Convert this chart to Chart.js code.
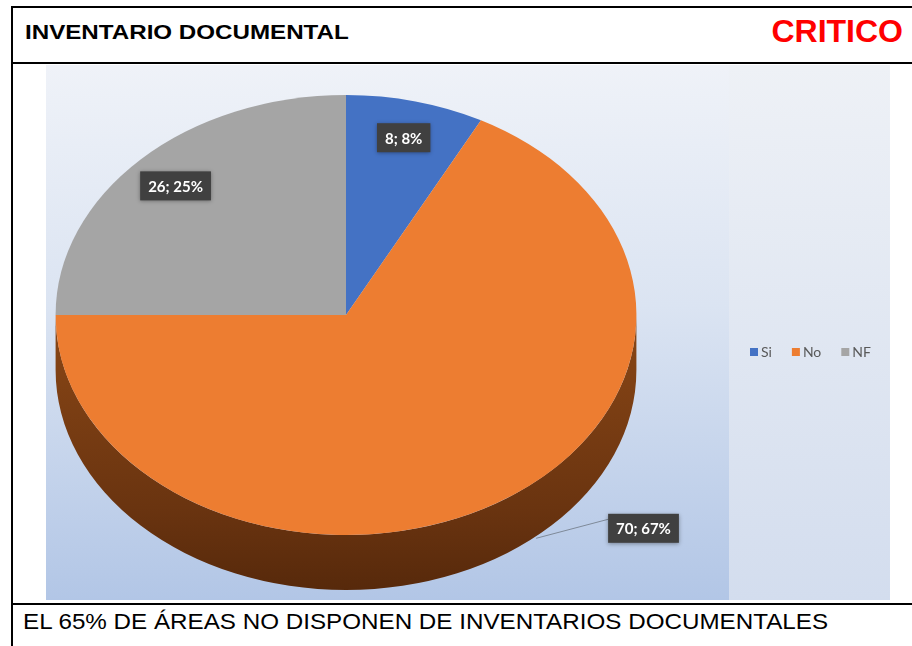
<!DOCTYPE html>
<html lang="es">
<head>
    <meta charset="UTF-8">
    <title>Inventario documental</title>
    <script src="https://cdn.jsdelivr.net/npm/chart.js"></script>
    <style>
        body { margin: 0; width: 912px; height: 646px; overflow: hidden; background: #fff; position: relative; font-family: "Liberation Sans", Arial, sans-serif; }
        .frame { position: absolute; left: 11px; top: 6px; width: 960px; height: 700px; border-left: 2px solid #000; border-top: 2px solid #000; }
        .hline { position: absolute; left: 11px; width: 960px; height: 2px; background: #000; }
        #titulo { position: absolute; left: 25px; top: 20px; font-size: 21px; font-weight: bold; color: #000; white-space: nowrap; transform-origin: left top; transform: scaleX(1.15); }
        #estado { position: absolute; right: 9px; top: 13px; font-size: 32px; font-weight: bold; color: #ff0000; white-space: nowrap; }
        #conclusion { position: absolute; left: 23px; top: 609px; font-size: 22px; color: #000; white-space: nowrap; transform-origin: left top; transform: scaleX(1.1); }
        #grafico { position: absolute; left: 46px; top: 65px; width: 844px; height: 535px; }
    </style>
</head>
<body>
    <div class="frame"></div>
    <div class="hline" style="top: 62px;"></div>
    <div class="hline" style="top: 603px;"></div>
    <div id="titulo">INVENTARIO DOCUMENTAL</div>
    <div id="estado">CRITICO</div>
    <div id="conclusion">EL 65% DE ÁREAS NO DISPONEN DE INVENTARIOS DOCUMENTALES</div>

    <div id="grafico"><canvas id="pieChart"></canvas></div>

    <script>
        // Datos del gráfico
        const categorias = ['Si', 'No', 'NF'];
        const valores = [8, 70, 26];

        const coloresCara = ['#4472c4', '#ed7d31', '#a5a5a5'];   // cara superior
        const coloresLado = ['#2f528f', '#6a3410', '#6e6e6e'];   // borde 3D
        const escalaX = 1.32;   // la torta es una elipse (vista inclinada)
        const grosor = 55;      // espesor del borde 3D

        // Fondo degradado de la imagen
        const fondo = {
            id: 'fondo',
            beforeDraw(chart) {
                const { ctx, width, height } = chart;
                const corte = 683;
                let g = ctx.createLinearGradient(0, 0, 0, height);
                g.addColorStop(0, '#eff2f8');
                g.addColorStop(0.45, '#dbe4f2');
                g.addColorStop(1, '#b2c6e6');
                ctx.save();
                ctx.fillStyle = g;
                ctx.fillRect(0, 0, corte, height);
                g = ctx.createLinearGradient(0, 0, 0, height);
                g.addColorStop(0, '#eef1f6');
                g.addColorStop(1, '#d3ddee');
                ctx.fillStyle = g;
                ctx.fillRect(corte, 0, width - corte, height);
                ctx.restore();
            }
        };

        // Vista 3D: estira la torta en x y dibuja el borde delantero
        const torta3d = {
            id: 'torta3d',
            beforeDatasetsDraw(chart) {
                const ctx = chart.ctx;
                const arcos = chart.getDatasetMeta(0).data;
                const cx = arcos[0].x, cy = arcos[0].y;
                ctx.save();
                ctx.translate(cx, cy);
                ctx.scale(escalaX, 1);
                ctx.translate(-cx, -cy);
                arcos.forEach((arco, i) => {
                    const { x, y, startAngle, endAngle, outerRadius } = arco.getProps(['x', 'y', 'startAngle', 'endAngle', 'outerRadius'], true);
                    let a0 = startAngle, a1 = endAngle;
                    while (a0 < 0) { a0 += 2 * Math.PI; a1 += 2 * Math.PI; }
                    // tramos delanteros: [0, PI] y [2PI, 3PI]
                    [[0, Math.PI], [2 * Math.PI, 3 * Math.PI]].forEach(([f0, f1]) => {
                        const s = Math.max(a0, f0), e = Math.min(a1, f1);
                        if (e <= s) return;
                        const g = ctx.createLinearGradient(0, y, 0, y + outerRadius + grosor);
                        g.addColorStop(0, '#8a4716');
                        g.addColorStop(0.7, coloresLado[i]);
                        g.addColorStop(1, '#57290b');
                        ctx.beginPath();
                        ctx.arc(x, y, outerRadius, s, e);
                        ctx.arc(x, y + grosor, outerRadius, e, s, true);
                        ctx.closePath();
                        ctx.fillStyle = i === 1 ? g : coloresLado[i];
                        ctx.fill();
                    });
                });
            },
            afterDatasetsDraw(chart) {
                chart.ctx.restore();
            }
        };

        // Etiquetas "valor; porcentaje"
        const etiquetas = {
            id: 'etiquetas',
            afterDraw(chart) {
                const ctx = chart.ctx;
                const arcos = chart.getDatasetMeta(0).data;
                const datos = chart.data.datasets[0].data;
                const total = datos.reduce((a, b) => a + b, 0);
                ctx.save();
                ctx.font = 'bold 15px Lato, "Open Sans", sans-serif';
                ctx.textAlign = 'center';
                ctx.textBaseline = 'middle';
                arcos.forEach((arco, i) => {
                    const { x, y, startAngle, endAngle, outerRadius } = arco.getProps(['x', 'y', 'startAngle', 'endAngle', 'outerRadius'], true);
                    const medio = (startAngle + endAngle) / 2;
                    const texto = datos[i] + '; ' + Math.round(datos[i] / total * 100) + '%';
                    const ancho = ctx.measureText(texto).width + 16;
                    const alto = 29;
                    let lx, ly;
                    if (datos[i] / total > 0.5) {
                        // etiqueta exterior con línea guía
                        const ang = medio - 0.17;
                        const px = x + escalaX * outerRadius * Math.cos(ang);
                        const py = y + outerRadius * Math.sin(ang) + grosor;
                        lx = px + 72 + ancho / 2;
                        ly = py - 8;
                        ctx.strokeStyle = '#7f8a99';
                        ctx.lineWidth = 1;
                        ctx.beginPath();
                        ctx.moveTo(px, py + 2);
                        ctx.lineTo(lx - ancho / 2, ly - 9);
                        ctx.stroke();
                    } else {
                        const f = 0.83;
                        lx = x + escalaX * outerRadius * f * Math.cos(medio);
                        ly = y + outerRadius * f * Math.sin(medio);
                    }
                    ctx.shadowColor = 'rgba(0,0,0,0.35)';
                    ctx.shadowBlur = 4;
                    ctx.shadowOffsetY = 1;
                    ctx.fillStyle = '#404040';
                    ctx.fillRect(lx - ancho / 2, ly - alto / 2, ancho, alto);
                    ctx.shadowColor = 'transparent';
                    ctx.fillStyle = '#ffffff';
                    ctx.fillText(texto, lx, ly + 1);
                });
                ctx.restore();
            }
        };

        // Leyenda horizontal a la derecha
        const leyenda = {
            id: 'leyenda',
            afterDraw(chart) {
                const ctx = chart.ctx;
                const colores = chart.data.datasets[0].backgroundColor;
                let x = 704;
                const y = 287;
                ctx.save();
                ctx.font = '14px Lato, "Open Sans", sans-serif';
                ctx.textBaseline = 'middle';
                chart.data.labels.forEach((lab, i) => {
                    ctx.fillStyle = colores[i];
                    ctx.fillRect(x, y - 4, 8, 8);
                    ctx.fillStyle = '#595959';
                    ctx.fillText(lab, x + 11, y);
                    x += 11 + ctx.measureText(lab).width + 20;
                });
                ctx.restore();
            }
        };

        const ctx = document.getElementById('pieChart').getContext('2d');
        const pieChart = new Chart(ctx, {
            type: 'pie',
            data: {
                labels: categorias,
                datasets: [{
                    data: valores,
                    backgroundColor: coloresCara,
                    borderWidth: 0,
                    clip: false
                }]
            },
            options: {
                responsive: true,
                maintainAspectRatio: false,
                animation: false,
                layout: { padding: { left: 80, top: 30, right: 324, bottom: 65 } },
                plugins: {
                    legend: { display: false },
                    tooltip: { enabled: false }
                }
            },
            plugins: [fondo, torta3d, etiquetas, leyenda]
        });
    </script>
</body>
</html>
